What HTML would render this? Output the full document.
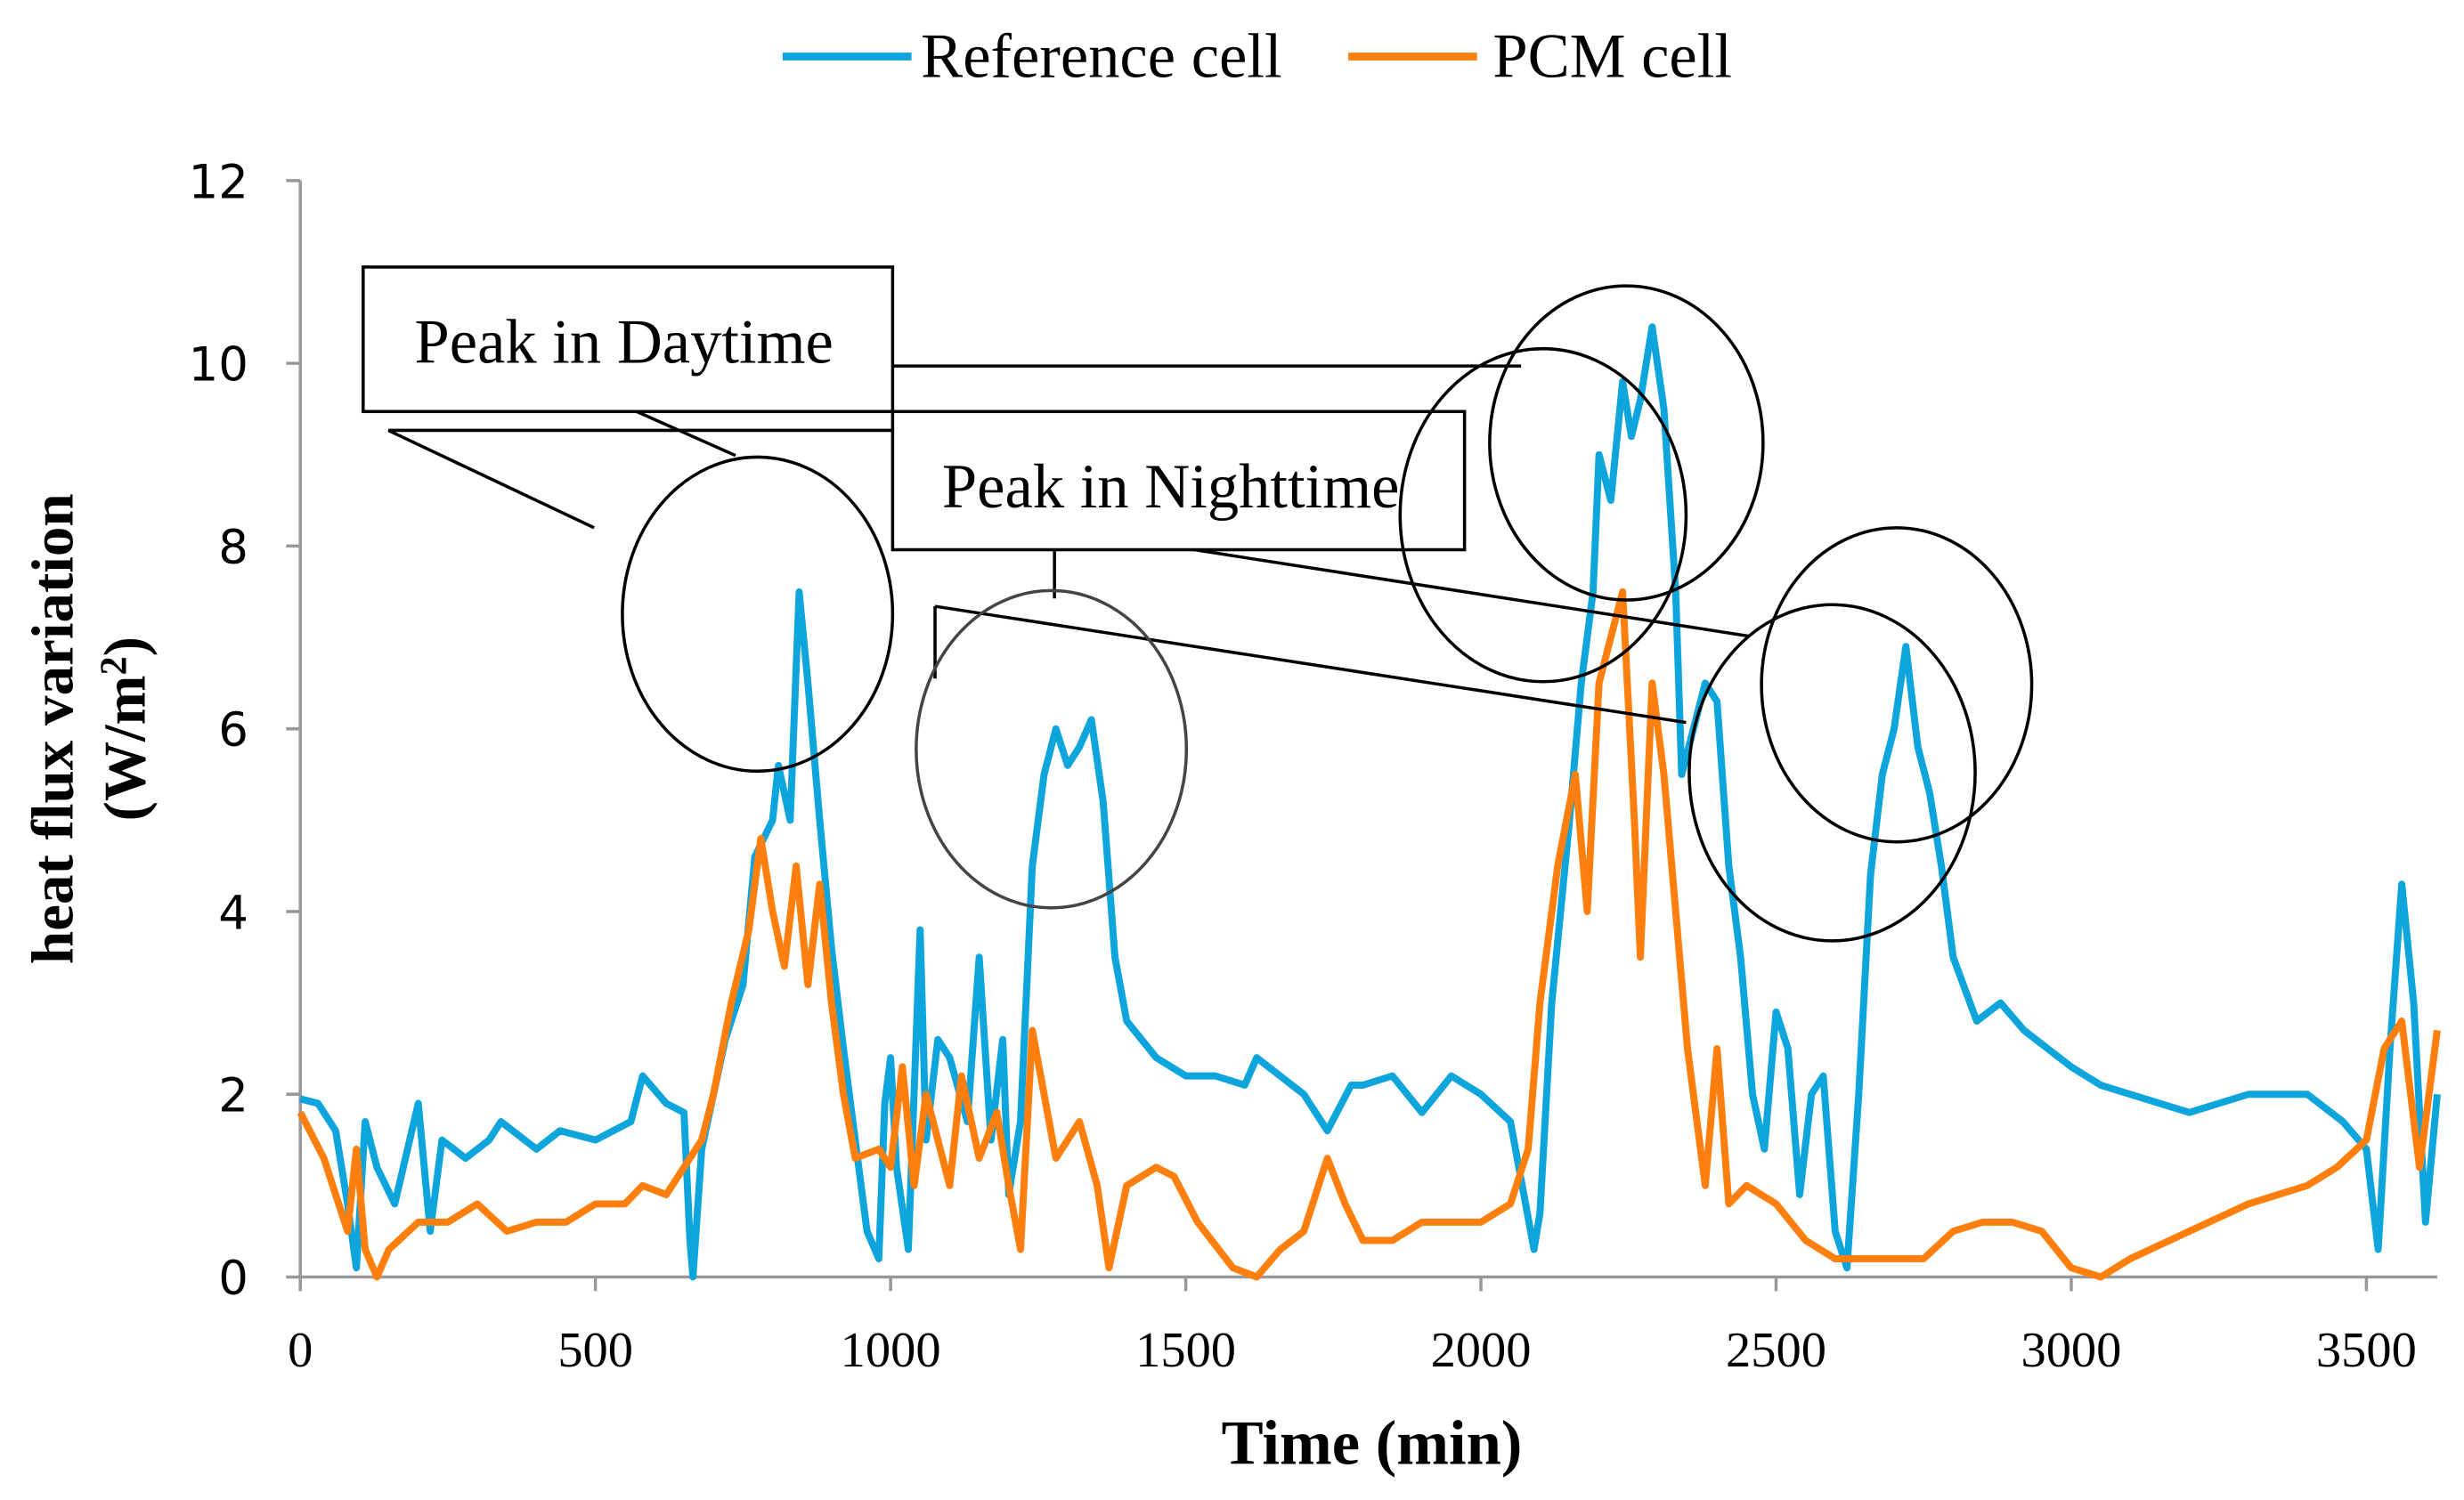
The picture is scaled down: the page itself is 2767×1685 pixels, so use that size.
<!DOCTYPE html>
<html><head><meta charset="utf-8"><style>
html,body{margin:0;padding:0;background:#fff;}
svg{display:block;}
</style></head><body>
<svg id="chart" width="2767" height="1685" viewBox="0 0 1568 955" xmlns="http://www.w3.org/2000/svg">
<rect width="1568" height="955" fill="#fff"/>
<g id="axes"></g>
<g id="series"></g>
<g id="annot" fill="none" stroke="#000" stroke-width="2">
  <rect x="231" y="170" width="337" height="92" fill="#fff" stroke-width="2"/>
  <text x="397" y="231" text-anchor="middle" font-family="Liberation Serif, serif" font-size="40" fill="#000" stroke="none">Peak in Daytime</text>
  <line x1="568" y1="233" x2="968" y2="233"/>
  <line x1="247" y1="274" x2="910" y2="274"/>
  <line x1="247" y1="274" x2="378" y2="336"/>
  <line x1="405" y1="262" x2="468" y2="290"/>
  <rect x="568" y="262" width="364" height="88" fill="#fff"/>
  <text x="745" y="323" text-anchor="middle" font-family="Liberation Serif, serif" font-size="40" fill="#000" stroke="none">Peak in Nighttime</text>
  <line x1="671" y1="350" x2="671" y2="381"/>
  <line x1="595" y1="386" x2="595" y2="432"/>
  <line x1="595" y1="386" x2="1073" y2="460"/>
  <line x1="760" y1="350" x2="1113" y2="405"/>
  <ellipse cx="482" cy="391" rx="86" ry="100"/>
  <ellipse cx="669" cy="477" rx="86" ry="101" stroke="#444"/>
  <ellipse cx="1035" cy="282" rx="87" ry="100"/>
  <ellipse cx="982" cy="328" rx="91" ry="106"/>
  <ellipse cx="1207" cy="436" rx="86" ry="100"/>
  <ellipse cx="1166" cy="492" rx="91" ry="107"/>
</g>
<g>
  <line x1="498" y1="36" x2="580" y2="36" stroke="#0ea5dc" stroke-width="5"/>
  <text x="586" y="49" font-family="Liberation Serif, serif" font-size="40">Reference cell</text>
  <line x1="858" y1="36" x2="940" y2="36" stroke="#ff7f0e" stroke-width="5"/>
  <text x="950" y="49" font-family="Liberation Serif, serif" font-size="40">PCM cell</text>
</g>
<text x="873" y="932" text-anchor="middle" font-family="Liberation Serif, serif" font-weight="bold" font-size="40">Time (min)</text>
<text transform="translate(46,464) rotate(-90)" text-anchor="middle" font-family="Liberation Serif, serif" font-weight="bold" font-size="38">heat flux variation</text>
<text transform="translate(92,464) rotate(-90)" text-anchor="middle" font-family="Liberation Serif, serif" font-weight="bold" font-size="38">(W/m<tspan dy="-12" font-size="24">2</tspan><tspan dy="12">)</tspan></text>
<script>
const xTicks=[0,500,1000,1500,2000,2500,3000,3500];
const yTicks=[0,2,4,6,8,10,12];
const refTimes=[0,30,60,80,95,110,130,160,200,220,240,280,320,340,400,440,500,560,580,620,650,660,665,680,720,750,770,800,810,830,845,860,880,900,920,940,960,980,990,1000,1010,1030,1050,1060,1080,1100,1130,1150,1170,1190,1200,1220,1240,1260,1280,1300,1320,1340,1360,1380,1400,1450,1500,1550,1600,1620,1680,1700,1740,1780,1800,1850,1900,1950,2000,2050,2070,2090,2100,2120,2150,2170,2190,2200,2220,2240,2255,2270,2290,2310,2330,2340,2360,2380,2400,2420,2440,2460,2480,2500,2520,2540,2560,2580,2600,2620,2640,2660,2680,2700,2720,2740,2760,2780,2800,2840,2880,2920,2960,3000,3050,3100,3150,3200,3250,3300,3400,3460,3500,3520,3540,3560,3580,3600,3620];
const refValues=[1.95,1.9,1.6,0.8,0.1,1.7,1.2,0.8,1.9,0.5,1.5,1.3,1.5,1.7,1.4,1.6,1.5,1.7,2.2,1.9,1.8,0.4,0.0,1.4,2.6,3.2,4.6,5.0,5.6,5.0,7.5,6.5,5.0,3.6,2.5,1.5,0.5,0.2,1.9,2.4,1.2,0.3,3.8,1.5,2.6,2.4,1.7,3.5,1.5,2.6,0.9,1.7,4.5,5.5,6.0,5.6,5.8,6.1,5.2,3.5,2.8,2.4,2.2,2.2,2.1,2.4,2.1,2.0,1.6,2.1,2.1,2.2,1.8,2.2,2.0,1.7,1.0,0.3,0.7,3.0,5.0,6.5,7.5,9.0,8.5,9.8,9.2,9.6,10.4,9.5,7.5,5.5,6.0,6.5,6.3,4.5,3.5,2.0,1.4,2.9,2.5,0.9,2.0,2.2,0.5,0.1,2.0,4.4,5.5,6.0,6.9,5.8,5.3,4.5,3.5,2.8,3.0,2.7,2.5,2.3,2.1,2.0,1.9,1.8,1.9,2.0,2.0,1.7,1.4,0.3,2.5,4.3,3.0,0.6,2.0];
const pcmTimes=[0,40,80,95,110,130,150,200,250,300,350,400,450,500,550,580,620,650,680,700,730,760,780,800,820,840,860,880,900,920,940,980,1000,1020,1040,1060,1080,1100,1120,1150,1180,1200,1220,1240,1260,1280,1300,1320,1350,1370,1400,1450,1480,1520,1580,1620,1660,1700,1740,1770,1800,1850,1900,2000,2050,2080,2100,2130,2160,2180,2200,2220,2240,2260,2270,2290,2310,2330,2350,2380,2400,2420,2450,2500,2550,2600,2650,2700,2750,2800,2850,2900,2950,3000,3050,3100,3200,3300,3400,3450,3500,3530,3560,3590,3620];
const pcmValues=[1.8,1.3,0.5,1.4,0.3,0.0,0.3,0.6,0.6,0.8,0.5,0.6,0.6,0.8,0.8,1.0,0.9,1.2,1.5,2.0,3.0,3.8,4.8,4.0,3.4,4.5,3.2,4.3,3.0,2.0,1.3,1.4,1.2,2.3,1.0,2.0,1.5,1.0,2.2,1.3,1.8,1.0,0.3,2.7,2.0,1.3,1.5,1.7,1.0,0.1,1.0,1.2,1.1,0.6,0.1,0.0,0.3,0.5,1.3,0.8,0.4,0.4,0.6,0.6,0.8,1.4,3.0,4.5,5.5,4.0,6.5,7.0,7.5,5.0,3.5,6.5,5.5,4.0,2.5,1.0,2.5,0.8,1.0,0.8,0.4,0.2,0.2,0.2,0.2,0.5,0.6,0.6,0.5,0.1,0.0,0.2,0.5,0.8,1.0,1.2,1.5,2.5,2.8,1.2,2.7];

const X0=191, XS=(1506-191)/3500, Y0=813, YS=(813-115)/12;
const xs=v=>X0+v*XS, ys=v=>Y0-v*YS;
const NS='http://www.w3.org/2000/svg';
const axes=document.getElementById('axes'), series=document.getElementById('series');
function mk(tag,attrs,parent){const e=document.createElementNS(NS,tag);for(const k in attrs)e.setAttribute(k,attrs[k]);parent.appendChild(e);return e;}
const yAxis=mk('line',{x1:xs(0),y1:ys(0),x2:xs(0),y2:ys(12),stroke:'#999','stroke-width':2},axes);


const xAxis=mk('line',{x1:xs(0),y1:ys(0),x2:xs(3620),y2:ys(0),stroke:'#999','stroke-width':2},axes);


yTicks.forEach(v=>{
  const t=mk('line',{x1:xs(0)-9,y1:ys(v),x2:xs(0),y2:ys(v),stroke:'#999','stroke-width':2},axes);
  
  
  const l=mk('text',{x:158,y:ys(v)+11,'text-anchor':'end','font-family':'DejaVu Sans, sans-serif','font-size':30},axes);
  l.textContent=v;
  
  
});
xTicks.forEach(v=>{
  const t=mk('line',{x1:xs(v),y1:ys(0),x2:xs(v),y2:ys(0)+9,stroke:'#999','stroke-width':2},axes);
  
  
  const l=mk('text',{x:xs(v),y:870,'text-anchor':'middle','font-family':'Liberation Serif, serif','font-size':32},axes);
  l.textContent=v;
  
  
});
function line(times,vals,color,name){
  const d=times.map((t,i)=>(i?'L':'M')+xs(t).toFixed(1)+','+ys(vals[i]).toFixed(1)).join('');
  const p=mk('path',{d:d,fill:'none',stroke:color,'stroke-width':4.5,'stroke-linejoin':'round'},series);
  
  
}
line(refTimes,refValues,'#0ea5dc','reference-cell-line');
line(pcmTimes,pcmValues,'#ff7f0e','pcm-cell-line');
</script>
</svg>
</body></html>
